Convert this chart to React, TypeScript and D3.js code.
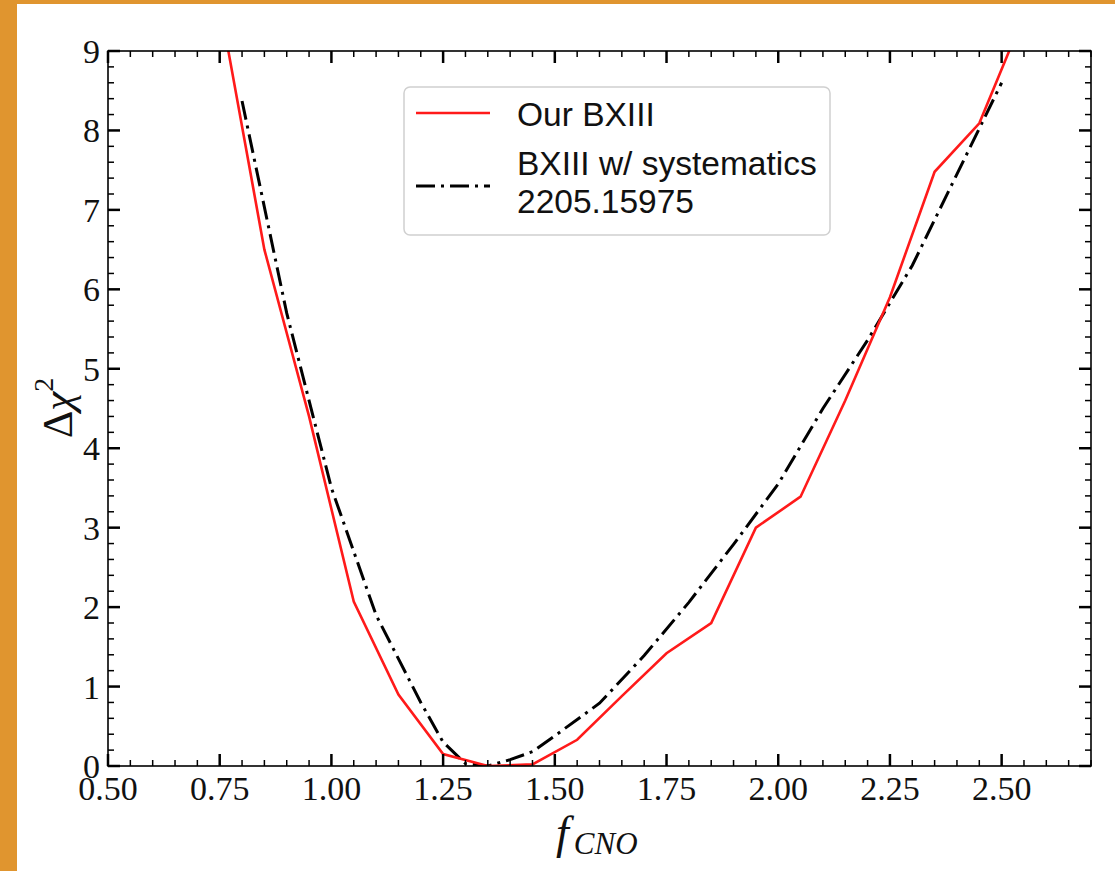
import React from "react";
import * as d3 from "d3";

const redX = [0.75, 0.85, 0.95, 1.05, 1.15, 1.25, 1.35, 1.45, 1.55, 1.65, 1.75, 1.85, 1.95, 2.05, 2.15, 2.25, 2.35, 2.45, 2.55];
const redY = [9.6, 6.5, 4.4, 2.07, 0.9, 0.15, 0.0, 0.02, 0.33, 0.88, 1.42, 1.8, 3.0, 3.39, 4.6, 5.9, 7.48, 8.09, 9.45];

const blackX = [0.8, 0.9, 1.0, 1.1, 1.2, 1.25, 1.3, 1.35, 1.4, 1.45, 1.5, 1.6, 1.7, 1.8, 1.9, 2.0, 2.1, 2.2, 2.3, 2.4, 2.5];
const blackY = [8.37, 5.7, 3.5, 1.9, 0.8, 0.3, 0.03, 0.0, 0.08, 0.18, 0.38, 0.79, 1.39, 2.06, 2.79, 3.55, 4.5, 5.36, 6.3, 7.45, 8.6];

const xTicks = [0.5, 0.75, 1.0, 1.25, 1.5, 1.75, 2.0, 2.25, 2.5];
const xTickLabels = ["0.50", "0.75", "1.00", "1.25", "1.50", "1.75", "2.00", "2.25", "2.50"];
const yTicks = [0, 1, 2, 3, 4, 5, 6, 7, 8, 9];
const yTickLabels = ["0", "1", "2", "3", "4", "5", "6", "7", "8", "9"];

const seriesNames = ["Our BXIII", "BXIII w/ systematics", "2205.15975"];

const W = 1115;
const H = 871;
const L = 108, R = 1091, T = 51, B = 766;

export default function App() {
  const x = d3.scaleLinear().domain([0.5, 2.7]).range([L, R]);
  const y = d3.scaleLinear().domain([0, 9]).range([B, T]);

  const xMinor = d3.range(0, 45).map((i) => +(0.5 + i * 0.05).toFixed(2)).filter((v) => v <= 2.7 && !xTicks.some((t) => Math.abs(t - v) < 1e-6));
  const yMinor = d3.range(0, 46).map((i) => +(i * 0.2).toFixed(2)).filter((v) => v <= 9 && !yTicks.some((t) => Math.abs(t - v) < 1e-6));

  const line = d3.line<[number, number]>().x((d) => x(d[0])).y((d) => y(d[1]));
  const redPath = line(redX.map((v, i) => [v, redY[i]] as [number, number])) || "";
  const blackPath = line(blackX.map((v, i) => [v, blackY[i]] as [number, number])) || "";

  const serif = "'Liberation Serif', 'DejaVu Serif', serif";
  const sans = "'Liberation Sans', Arial, sans-serif";
  const majLen = 12, minLen = 6;

  return (
    <svg width={W} height={H} style={{ position: "absolute", left: 0, top: 0 }} xmlns="http://www.w3.org/2000/svg">
      <rect x={0} y={0} width={W} height={H} fill="#ffffff" />
      <rect x={0} y={0} width={W} height={4} fill="#E0952F" />
      <rect x={0} y={0} width={17} height={H} fill="#E0952F" />
      <defs>
        <clipPath id="plotclip">
          <rect x={L} y={T} width={R - L} height={B - T} />
        </clipPath>
      </defs>

      <g clipPath="url(#plotclip)">
        <path d={blackPath} fill="none" stroke="#000" strokeWidth={3} strokeDasharray="19 6 3 6" />
        <path d={redPath} fill="none" stroke="#ff1a1a" strokeWidth={2.6} />
      </g>

      {/* ticks */}
      <g stroke="#000">
        {xTicks.map((t) => (
          <g key={"xt" + t}>
            <line x1={x(t)} x2={x(t)} y1={B} y2={B - majLen} strokeWidth={2.5} />
            <line x1={x(t)} x2={x(t)} y1={T} y2={T + majLen} strokeWidth={2.5} />
          </g>
        ))}
        {xMinor.map((t) => (
          <g key={"xm" + t}>
            <line x1={x(t)} x2={x(t)} y1={B} y2={B - minLen} strokeWidth={1.5} />
            <line x1={x(t)} x2={x(t)} y1={T} y2={T + minLen} strokeWidth={1.5} />
          </g>
        ))}
        {yTicks.map((t) => (
          <g key={"yt" + t}>
            <line x1={L} x2={L + majLen} y1={y(t)} y2={y(t)} strokeWidth={2.5} />
            <line x1={R} x2={R - majLen} y1={y(t)} y2={y(t)} strokeWidth={2.5} />
          </g>
        ))}
        {yMinor.map((t) => (
          <g key={"ym" + t}>
            <line x1={L} x2={L + minLen} y1={y(t)} y2={y(t)} strokeWidth={1.5} />
            <line x1={R} x2={R - minLen} y1={y(t)} y2={y(t)} strokeWidth={1.5} />
          </g>
        ))}
      </g>

      <rect x={L} y={T} width={R - L} height={B - T} fill="none" stroke="#000" strokeWidth={1.6} />

      {/* tick labels */}
      <g fontFamily={serif} fontSize={34} fill="#111">
        {xTicks.map((t, i) => (
          <text key={"xl" + t} x={x(t)} y={B + 34} textAnchor="middle">
            {xTickLabels[i]}
          </text>
        ))}
        {yTicks.map((t, i) => (
          <text key={"yl" + t} x={L - 8} y={y(t) + 12} textAnchor="end">
            {yTickLabels[i]}
          </text>
        ))}
      </g>

      {/* axis labels */}
      <text x={556} y={848} fontFamily={serif} fontSize={46} fontStyle="italic" fill="#111">
        f
        <tspan fontSize={31} dy={6} dx={5}>CNO</tspan>
      </text>
      <text transform={`translate(72, 408) rotate(-90)`} textAnchor="middle" fontFamily={serif} fontSize={43} fill="#111">
        Δ<tspan fontStyle="italic">χ</tspan>
        <tspan fontSize={28} dy={-19}>2</tspan>
      </text>

      {/* legend */}
      <rect x={404} y={87} width={426} height={148} rx={6} fill="#fff" fillOpacity={0.85} stroke="#d0d0d0" strokeWidth={1.5} />
      <line x1={416} x2={490} y1={113} y2={113} stroke="#ff1a1a" strokeWidth={2.6} />
      <line x1={416} x2={490} y1={186} y2={186} stroke="#000" strokeWidth={3} strokeDasharray="19 6 3 6" />
      <g fontFamily={sans} fontSize={33.5} fill="#111">
        <text x={517} y={126}>{seriesNames[0]}</text>
        <text x={517} y={175}>{seriesNames[1]}</text>
        <text x={517} y={213}>{seriesNames[2]}</text>
      </g>
    </svg>
  );
}
